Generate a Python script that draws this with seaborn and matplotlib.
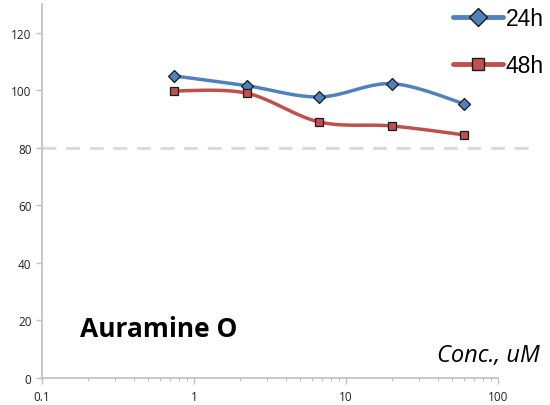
import numpy as np
import pandas as pd
import matplotlib
matplotlib.use("Agg")
import matplotlib.pyplot as plt
import seaborn as sns
from matplotlib.lines import Line2D

conc = [0.74, 2.22, 6.67, 20.0, 60.0]
h24 = [105.0, 101.6, 97.7, 102.3, 95.3]
h48 = [99.8, 99.0, 89.0, 87.6, 84.5]
series_names = ["24h", "48h"]
threshold = 80
yticks = [0, 20, 40, 60, 80, 100, 120]
xticks = [0.1, 1, 10, 100]
xticklabels = ["0.1", "1", "10", "100"]

sns.set_theme(style="white")
plt.rcParams['font.family'] = ['Open Sans', 'DejaVu Sans']

BLUE = "#4F81BD"
RED = "#C0504D"

def smooth(xs, ys, n=30, sx=152.0, sy=2.875):
    # Excel-like bezier smoothing in display-proportional space
    u = np.log10(np.asarray(xs)) * sx
    v = np.asarray(ys) * sy
    P = np.column_stack([u, v])
    out = []
    m = len(P)
    for i in range(m - 1):
        p0 = P[i - 1] if i > 0 else P[i]
        p1 = P[i]
        p2 = P[i + 1]
        p3 = P[i + 2] if i + 2 < m else P[i + 1]
        c1 = p1 + (p2 - p0) / 6.0
        c2 = p2 - (p3 - p1) / 6.0
        t = np.linspace(0, 1, n, endpoint=(i == m - 2))[:, None]
        b = (1 - t) ** 3 * p1 + 3 * (1 - t) ** 2 * t * c1 + 3 * (1 - t) * t ** 2 * c2 + t ** 3 * p2
        out.append(b)
    out = np.vstack(out)
    return 10 ** (out[:, 0] / sx), out[:, 1] / sy

fig = plt.figure(figsize=(5.5, 4.06), dpi=100)
ax = fig.add_axes([42 / 550, 1 - 379 / 406, (498 - 42) / 550, (379 - 5) / 406])
ax.set_xscale("log")
ax.set_xlim(0.1, 100)
ax.set_ylim(0, 130)

ax.axhline(threshold, xmin=0, xmax=1.07, color="#D9D9D9", lw=2, ls=(0, (5, 3.5)), clip_on=False, zorder=1)

for vals, color, marker, ms in [(h24, BLUE, "D", 6), (h48, RED, "s", 6)]:
    sx_, sy_ = smooth(conc, vals)
    sns.lineplot(x=sx_, y=sy_, ax=ax, color=color, lw=2.5, sort=False, estimator=None, zorder=2)
    ax.plot(conc, vals, ls="none", marker=marker, ms=ms, mfc=color, mec="#1a1a1a", mew=0.9, zorder=3)

for s in ["top", "right"]:
    ax.spines[s].set_visible(False)
for s in ["left", "bottom"]:
    ax.spines[s].set_color("#BFBFBF")
    ax.spines[s].set_linewidth(1.2)

ax.set_yticks(yticks)
ax.set_yticklabels([str(v) for v in yticks])
ax.set_xticks(xticks)
ax.set_xticklabels(xticklabels)
ax.tick_params(axis="both", which="major", direction="out", length=4, width=1, color="#BFBFBF",
               labelsize=8.5, labelcolor="#222222", left=True, bottom=True)
ax.tick_params(axis="x", which="minor", direction="out", length=2.5, width=0.8, color="#BFBFBF", bottom=True)
ax.tick_params(axis="x", pad=5)
ax.xaxis.set_minor_locator(matplotlib.ticker.LogLocator(base=10, subs=np.arange(2, 10)))
ax.xaxis.set_minor_formatter(matplotlib.ticker.NullFormatter())

fig.text(80 / 550, 1 - 330 / 406, "Auramine O", fontsize=19, fontweight="bold", va="center", ha="left", color="black")
fig.text(540 / 550, 1 - 356 / 406, "Conc., uM", fontsize=17, fontstyle="italic", va="center", ha="right", color="black")

handles = [Line2D([0], [0], color=BLUE, lw=3.5, marker="D", ms=9, mfc=BLUE, mec="#1a1a1a", mew=1),
           Line2D([0], [0], color=RED, lw=3.5, marker="s", ms=9, mfc=RED, mec="#1a1a1a", mew=1)]
leg = fig.legend(handles, series_names, loc="upper left", bbox_to_anchor=(453 / 550, 1 - 8 / 406),
                 frameon=False, prop={"family": ["Liberation Sans"], "size": 16.5},
                 handlelength=2.2, handletextpad=0.1, labelspacing=1.05, labelcolor="black",
                 borderaxespad=0, borderpad=0)

fig.savefig("out.png", dpi=100)
